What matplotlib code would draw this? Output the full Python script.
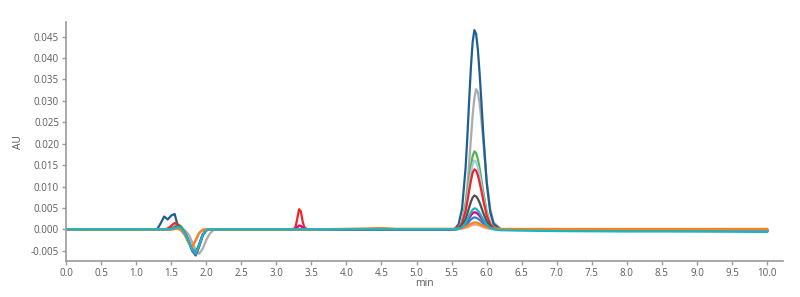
import matplotlib
matplotlib.use("Agg")
import matplotlib.pyplot as plt

# retention time grid (min), shared by all traces
time_min = [
    0.0, 0.5, 1.0,
    1.3, 1.35, 1.4, 1.45, 1.5, 1.55, 1.6, 1.65, 1.7, 1.75, 1.8, 1.85, 1.9, 1.95, 2.0, 2.05, 2.1, 2.15,
    2.25, 2.5, 3.0,
    3.2, 3.25, 3.275, 3.3, 3.325, 3.35, 3.375, 3.4, 3.45, 3.5,
    4.0, 4.3, 4.5, 4.7, 5.0, 5.4, 5.5,
    5.55, 5.6, 5.65, 5.7,
    5.725, 5.75, 5.775, 5.8, 5.825, 5.85, 5.875, 5.9, 5.925, 5.95,
    6.0, 6.05, 6.1, 6.2, 6.5, 7.0, 8.0, 9.0, 10.0,
]

# absorbance (AU) per injection, same order as time_min
au_darkblue = [
    0, 0, 0,
    0.0, 0.0014, 0.0030, 0.0023, 0.0032, 0.0036, 0.0004, -0.0003, -0.0012, -0.0028, -0.0047, -0.0057, -0.0036, -0.0012, -0.0002, 0.0, 0.0, 0.0,
    0, 0, 0,
    0, 0, 0, 0, 0, 0, 0, 0, 0, 0,
    0, 0, 0, 0, 0, 0, 0,
    0.0002, 0.0012, 0.0049, 0.0144,
    0.0217, 0.0299, 0.0377, 0.0437, 0.0465, 0.0456, 0.0419, 0.0363, 0.0298, 0.0228,
    0.0110, 0.0041, 0.0012, 0.0, -0.0001, -0.0002, -0.0002, -0.0003, -0.0003,
]
au_lightgray = [
    0, 0, 0,
    0, 0, 0, 0, 0, 0.0001, 0.0003, 0.0003, -0.0003, -0.0012, -0.0030, -0.0048, -0.0057, -0.0045, -0.0025, -0.0010, -0.0002, 0.0,
    0, 0, 0,
    0, 0, 0, 0, 0, 0, 0, 0, 0, 0,
    0, 0, 0, 0, 0, 0, 0,
    0.0, 0.0004, 0.0018, 0.0062,
    0.0101, 0.0152, 0.0210, 0.0265, 0.0307, 0.0327, 0.0320, 0.0294, 0.0255, 0.0209,
    0.0114, 0.0049, 0.0016, 0.0001, -0.0001, -0.0002, -0.0003, -0.0003, -0.0004,
]
au_green = [
    0, 0, 0,
    0, 0, 0, 0, 0.0002, 0.0007, 0.0012, 0.0006, -0.0008, -0.0026, -0.0045, -0.0055, -0.0036, -0.0013, -0.0002, 0.0, 0.0, 0.0,
    0, 0, 0,
    0, 0, 0, 0, 0, 0, 0, 0, 0, 0,
    0, 0, 0, 0, 0, 0, 0,
    0.0001, 0.0005, 0.0019, 0.0056,
    0.0085, 0.0117, 0.0147, 0.0171, 0.0182, 0.0178, 0.0164, 0.0142, 0.0116, 0.0089,
    0.0043, 0.0016, 0.0005, 0.0, -0.0001, -0.0002, -0.0002, -0.0003, -0.0003,
]
au_lightblue = [
    0, 0, 0,
    0, 0, 0, 0, 0.0001, 0.0005, 0.0008, 0.0004, -0.0009, -0.0027, -0.0046, -0.0055, -0.0036, -0.0013, -0.0002, 0.0, 0.0, 0.0,
    0, 0, 0,
    0, 0, 0, 0, 0, 0, 0, 0, 0, 0,
    0, 0, 0, 0, 0, 0, 0,
    0.0001, 0.0004, 0.0017, 0.0050,
    0.0075, 0.0103, 0.0130, 0.0151, 0.0161, 0.0158, 0.0145, 0.0126, 0.0103, 0.0079,
    0.0038, 0.0014, 0.0004, 0.0, -0.0001, -0.0002, -0.0002, -0.0003, -0.0003,
]
au_red = [
    0, 0, 0,
    0, 0, 0, 0.0002, 0.0008, 0.0015, 0.0010, 0.0001, -0.0011, -0.0028, -0.0046, -0.0055, -0.0036, -0.0013, -0.0002, 0.0, 0.0, 0.0,
    0, 0, 0,
    0.0, 0.0001, 0.0006, 0.0026, 0.0047, 0.0042, 0.0019, 0.0004, 0.0, 0.0,
    0, 0, 0, 0, 0, 0, 0,
    0.0001, 0.0004, 0.0015, 0.0043,
    0.0065, 0.0090, 0.0113, 0.0132, 0.0140, 0.0137, 0.0126, 0.0109, 0.0090, 0.0069,
    0.0033, 0.0012, 0.0004, 0.0, -0.0001, -0.0001, -0.0002, -0.0002, -0.0002,
]
au_darkgray = [
    0, 0, 0,
    0, 0, 0, 0, 0.0001, 0.0004, 0.0008, 0.0003, -0.0010, -0.0029, -0.0050, -0.0061, -0.0040, -0.0014, -0.0002, 0.0, 0.0, 0.0,
    0, 0, 0,
    0, 0, 0, 0, 0, 0, 0, 0, 0, 0,
    0, 0, 0, 0, 0, 0, 0,
    0.0, 0.0002, 0.0008, 0.0024,
    0.0037, 0.0051, 0.0064, 0.0074, 0.0079, 0.0077, 0.0071, 0.0062, 0.0051, 0.0039,
    0.0019, 0.0007, 0.0002, 0.0, -0.0001, -0.0002, -0.0002, -0.0003, -0.0003,
]
au_teal = [
    0, 0, 0,
    0, 0, 0, 0, 0.0001, 0.0003, 0.0006, 0.0002, -0.0010, -0.0028, -0.0047, -0.0056, -0.0037, -0.0013, -0.0002, 0.0, 0.0, 0.0,
    0, 0, 0,
    0, 0, 0, 0, 0, 0, 0, 0, 0, 0,
    0, 0, 0, 0, 0, 0, 0,
    0.0, 0.0001, 0.0005, 0.0015,
    0.0023, 0.0031, 0.0040, 0.0046, 0.0049, 0.0048, 0.0044, 0.0038, 0.0031, 0.0024,
    0.0011, 0.0004, 0.0, -0.0002, -0.0003, -0.0004, -0.0005, -0.0005, -0.0006,
]
au_magenta = [
    0, 0, 0,
    0, 0, 0, 0, 0.0001, 0.0004, 0.0005, 0.0002, -0.0010, -0.0028, -0.0047, -0.0057, -0.0037, -0.0013, -0.0002, 0.0, 0.0, 0.0,
    0, 0, 0,
    0.0, 0.0, 0.0001, 0.0005, 0.0009, 0.0008, 0.0004, 0.0001, 0.0, 0.0,
    0, 0, 0, 0, 0, 0, 0,
    0.0, 0.0001, 0.0004, 0.0012,
    0.0019, 0.0026, 0.0032, 0.0038, 0.0040, 0.0039, 0.0036, 0.0031, 0.0026, 0.0020,
    0.0009, 0.0004, 0.0001, 0.0, -0.0001, -0.0002, -0.0002, -0.0003, -0.0003,
]
au_blue = [
    0, 0, 0,
    0, 0, 0, 0, 0.0001, 0.0002, 0.0003, 0.0001, -0.0011, -0.0029, -0.0049, -0.0059, -0.0038, -0.0013, -0.0002, 0.0, 0.0, 0.0,
    0, 0, 0,
    0, 0, 0, 0, 0, 0, 0, 0, 0, 0,
    0, 0, 0, 0, 0, 0, 0,
    0.0, 0.0001, 0.0003, 0.0009,
    0.0013, 0.0018, 0.0023, 0.0026, 0.0028, 0.0027, 0.0025, 0.0022, 0.0018, 0.0014,
    0.0007, 0.0002, 0.0001, 0.0, -0.0001, -0.0002, -0.0003, -0.0004, -0.0004,
]
au_orange = [
    0, 0, 0,
    0, 0, 0, 0, 0, 0.0001, 0.0002, -0.0003, -0.0015, -0.0032, -0.0041, -0.0025, -0.0008, -0.0001, 0.0, 0.0, 0.0, 0.0,
    0, 0, 0,
    0, 0, 0, 0, 0, 0, 0, 0, 0, 0,
    0.0001, 0.0002, 0.0003, 0.0001, 0.0001, 0.0001, 0.0001,
    0.0001, 0.0002, 0.0003, 0.0006,
    0.0008, 0.0011, 0.0013, 0.0015, 0.0016, 0.0016, 0.0015, 0.0013, 0.0011, 0.0009,
    0.0005, 0.0003, 0.0002, 0.0001, 0.0001, 0.0001, 0.0001, 0.0001, 0.0001,
]
au_salmon = [
    0, 0, 0,
    0, 0, 0, 0, 0, 0.0001, 0.0001, -0.0003, -0.0014, -0.0031, -0.0040, -0.0026, -0.0009, -0.0001, 0.0, 0.0, 0.0, 0.0,
    0, 0, 0,
    0, 0, 0, 0, 0, 0, 0, 0, 0, 0,
    0.0001, 0.0001, 0.0002, 0.0001, 0.0001, 0.0001, 0.0001,
    0.0, 0.0001, 0.0002, 0.0004,
    0.0005, 0.0007, 0.0009, 0.0010, 0.0011, 0.0011, 0.0010, 0.0009, 0.0007, 0.0005,
    0.0003, 0.0001, 0.0001, 0.0, 0.0, 0.0, 0.0, 0.0, 0.0,
]

traces = [
    (au_lightgray, '#ababab'),
    (au_darkblue, '#1f5f8f'),
    (au_green, '#4db848'),
    (au_lightblue, '#a9c9ea'),
    (au_red, '#f2232a'),
    (au_darkgray, '#505050'),
    (au_magenta, '#e6007e'),
    (au_blue, '#2f80d2'),
    (au_salmon, '#f2a07a'),
    (au_orange, '#f5821f'),
    (au_teal, '#17b6c4'),
]

plt.rcParams['font.family'] = ['Open Sans', 'DejaVu Sans']
text_color = '#5a5a5a'
axis_color = '#9a9a9a'

fig = plt.figure(figsize=(8.0, 2.97), dpi=100)
ax = fig.add_axes([0.0825, 0.121, 0.8965, 0.805])

for values, color in traces:
    assert len(values) == len(time_min)
    ax.plot(time_min, values, color=color, lw=1.6, solid_joinstyle='round')

ax.set_xlim(0, 10.23)
ax.set_ylim(-0.0074, 0.0484)
ax.set_xticks([i * 0.5 for i in range(21)])
ax.set_yticks([-0.005 + i * 0.005 for i in range(11)])
ax.xaxis.set_major_formatter(matplotlib.ticker.FormatStrFormatter('%.1f'))
ax.yaxis.set_major_formatter(matplotlib.ticker.FormatStrFormatter('%.3f'))

for side in ['top', 'right']:
    ax.spines[side].set_visible(False)
for side in ['left', 'bottom']:
    ax.spines[side].set_color(axis_color)
    ax.spines[side].set_linewidth(1.2)
ax.tick_params(direction='out', length=3, width=1, color=axis_color,
               labelcolor=text_color, labelsize=7, pad=2)

ax.set_xlabel('min', color=text_color, fontsize=7.5, labelpad=-1)
ax.set_ylabel('AU', color=text_color, fontsize=7.5, labelpad=5)

fig.savefig('out.png', dpi=100)
